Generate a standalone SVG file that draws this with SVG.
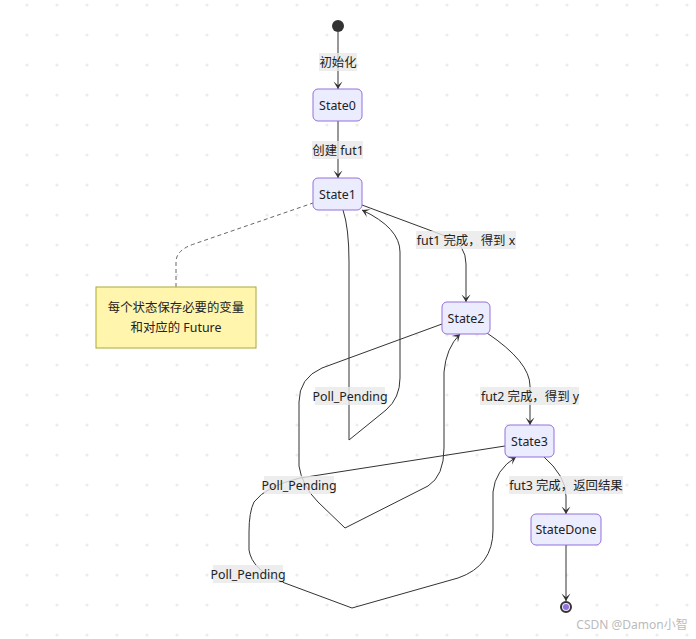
<svg xmlns="http://www.w3.org/2000/svg" width="696" height="639" viewBox="0 0 696 639">
<style>
text{font-family:"Noto Sans","Noto Sans CJK SC",sans-serif;font-size:12.4px;fill:#222;text-anchor:middle;dominant-baseline:central}
.state rect{fill:#ECECFF;stroke:#9370DB;stroke-width:1}
.edge{fill:none;stroke:#333;stroke-width:1;marker-end:url(#barb)}
.lbl{fill:#e8e8e8;opacity:0.8}
</style>
<defs>
<pattern id="dots" patternUnits="userSpaceOnUse" x="12" y="-10" width="30" height="30">
<circle cx="15" cy="15" r="1.6" fill="#ececec"/>
</pattern>
<marker id="barb" viewBox="0 0 20 14" refX="19" refY="7" markerUnits="userSpaceOnUse" markerWidth="15" markerHeight="10.5" orient="auto">
<path d="M19,7 L9,13 L14,7 L9,1 Z" fill="#333"/>
</marker>
</defs>
<rect width="696" height="639" fill="#fff"/>
<rect width="696" height="639" fill="url(#dots)"/>

<g id="connectors">
<path class="edge" d="M338,32 L338,89"/>
<path class="edge" d="M338,121 L338,178"/>
<path class="edge" d="M362,205 L448,237 Q466,245 466,264 L466,302"/>
<path class="edge" d="M487,333 Q530,362 530,386 L530,425"/>
<path class="edge" d="M543,456 Q566,476 566,496 L566,514"/>
<path class="edge" d="M566,545 L566,601"/>
<path class="edge" d="M343,210 Q349,228 349,262 L349,440 L386,410 Q400,398 400,378 L400,252 Q400,228 362,210"/>
<path class="edge" d="M442,324 L322,368 Q299,378 299,402 L299,466 Q302,486 318,502 L345,528 L428,486 Q444,476 444,448 L444,372 Q446,348 460,334"/>
<path class="edge" d="M505,446 L300,478 Q266,486 254,502 Q249,512 249,532 L249,550 Q252,570 282,582 L352,608 L458,578 Q493,566 493,530 L493,492 Q495,470 516,457"/>
<path d="M176,287 L176,262 Q176,250 194,244 L313,203" fill="none" stroke="#666" stroke-width="1" stroke-dasharray="4,3"/>
</g>

<g id="labels">
<rect class="lbl" x="319" y="53" width="38" height="18"/><text x="338" y="62">初始化</text>
<rect class="lbl" x="312" y="141" width="51" height="18"/><text x="338" y="150">创建 fut1</text>
<rect class="lbl" x="416" y="231" width="100" height="18"/><text x="466" y="240">fut1 完成，得到 x</text>
<rect class="lbl" x="480" y="387" width="99" height="18"/><text x="530" y="396">fut2 完成，得到 y</text>
<rect class="lbl" x="509" y="476" width="114" height="18"/><text x="566" y="485">fut3 完成，返回结果</text>
<rect class="lbl" x="315" y="387" width="70" height="18"/><text x="350" y="396">Poll_Pending</text>
<rect class="lbl" x="264" y="476" width="70" height="18"/><text x="299" y="485">Poll_Pending</text>
<rect class="lbl" x="213" y="565" width="70" height="18"/><text x="248" y="574">Poll_Pending</text>
</g>

<g id="start"><circle cx="338" cy="26" r="6" fill="#333"/></g>
<g id="State0" class="state"><rect x="313" y="89" width="49" height="32" rx="5"/><text x="337.5" y="105">State0</text></g>
<g id="State1" class="state"><rect x="313" y="178" width="49" height="32" rx="5"/><text x="337.5" y="194">State1</text></g>
<g id="State2" class="state"><rect x="442" y="302" width="48" height="32" rx="5"/><text x="466" y="318">State2</text></g>
<g id="State3" class="state"><rect x="505" y="425" width="49" height="32" rx="5"/><text x="529.5" y="441">State3</text></g>
<g id="StateDone" class="state"><rect x="531" y="514" width="70" height="31" rx="5"/><text x="566" y="529.5">StateDone</text></g>
<g id="end"><circle cx="566" cy="607" r="5" fill="#ECECFF" stroke="#333" stroke-width="2"/><circle cx="566" cy="607" r="3" fill="#9370DB"/></g>

<g id="note">
<rect x="96" y="287" width="160" height="61" fill="#fff5ad" stroke="#aaaa33" stroke-width="1"/>
<text x="176" y="307">每个状态保存必要的变量</text>
<text x="176" y="327">和对应的 Future</text>
</g>

<text x="632" y="624" style="fill:#bbb;font-size:12px;stroke:#fff;stroke-width:2;paint-order:stroke">CSDN @Damon小智</text>
</svg>
